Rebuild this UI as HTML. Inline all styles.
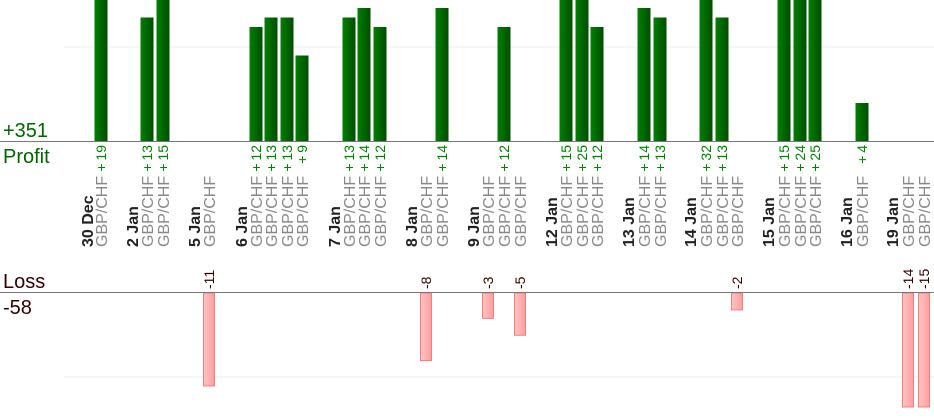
<!DOCTYPE html>
<html><head><meta charset="utf-8"><style>
html,body{margin:0;padding:0;background:#fff;}
svg{display:block;font-family:"Liberation Sans",sans-serif;}
</style></head><body>
<svg width="934" height="420" xmlns="http://www.w3.org/2000/svg">
<defs>
<linearGradient id="g" x1="0" x2="1" y1="0" y2="0"><stop offset="0" stop-color="#008000"/><stop offset="1" stop-color="#004d00"/></linearGradient>
<linearGradient id="r" x1="0" x2="1" y1="0" y2="0"><stop offset="0" stop-color="#ffc4c4"/><stop offset="1" stop-color="#ff9e9e"/></linearGradient>
</defs>
<line x1="64" y1="47" x2="934" y2="47" stroke="#eee"/>
<line x1="64" y1="377" x2="934" y2="377" stroke="#eee"/>
<g id="bars"></g>
<line x1="0" y1="141.5" x2="934" y2="141.5" stroke="#777"/>
<line x1="0" y1="292.5" x2="934" y2="292.5" stroke="#777"/>
<text x="3" y="137" font-size="20" fill="#006400">+351</text>
<text x="3" y="163" font-size="20" fill="#006400">Profit</text>
<text x="3" y="288" font-size="20" fill="#330000">Loss</text>
<text x="3" y="314" font-size="20" fill="#330000">-58</text>
<g id="t"></g>
</svg>
<script>
var dates=[["30 Dec",87,[[101,19]]],["2 Jan",132,[[147,13],[163,15]]],["5 Jan",194,[[209,-11]]],
["6 Jan",241,[[256,12],[271,13],[287,13],[302,9]]],["7 Jan",334,[[349,13],[364,14],[380,12]]],
["8 Jan",411,[[426,-8],[442,14]]],["9 Jan",473,[[488,-3],[504,12],[520,-5]]],
["12 Jan",551,[[566,15],[582,25],[597,12]]],["13 Jan",628,[[644,14],[660,13]]],
["14 Jan",690,[[706,32],[722,13],[737,-2]]],["15 Jan",768,[[784,15],[800,24],[815,25]]],
["16 Jan",846,[[862,4]]],["19 Jan",892,[[908,-14],[924,-15]]]];
var b="",t="";
function rt(x,y,s,anc,sz,col,w){return '<text transform="translate('+x+','+y+') rotate(-90)" text-anchor="'+anc+'" font-size="'+sz+'" fill="'+col+'"'+(w?' font-weight="bold"':'')+'>'+s+'</text>';}
dates.forEach(function(d){
 t+=rt(d[1]+6,247,d[0],"start",16,"#222",1);
 d[2].forEach(function(c){
  var x=c[0],v=c[1];
  t+=rt(x+6,247,"GBP/CHF","start",16,"#888");
  if(v>0){var h=Math.min(v*9.5,141);b+='<rect x="'+(x-6.5)+'" y="'+(141-h)+'" width="13" height="'+h+'" fill="url(#g)"/>';
   t+=rt(x+5,145,"+\u2009"+v,"end",14,"#008000");}
  else{var h=Math.min(-v*8.45,114);b+='<rect x="'+(x-5.5)+'" y="293" width="11" height="'+h+'" fill="url(#r)" stroke="#f08080" stroke-width="1"/>';
   t+=rt(x+5,289,String(v),"start",14,"#330000");}
 });
});
document.getElementById("bars").innerHTML=b;document.getElementById("t").innerHTML=t;
</script>
</body></html>
